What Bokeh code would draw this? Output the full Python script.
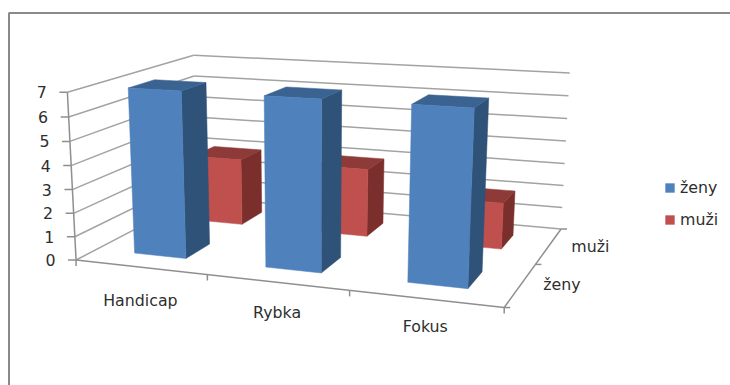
import numpy as np
from bokeh.embed import file_html
from bokeh.models import ColumnDataSource, Legend, LegendItem
from bokeh.plotting import figure
from bokeh.resources import INLINE
from bokeh.core.properties import value

# Chart data
categories = ["Handicap", "Rybka", "Fokus"]
series_names = ["ženy", "muži"]
zeny = [7, 7, 7]
muzi = [3, 3, 2]
value_ticks = [0, 1, 2, 3, 4, 5, 6, 7]

FONT = "DejaVu Sans"
FONT_SIZE = "15.8px"
TEXT = "#2e2e2e"
GRID = "#a3a3a3"
AXIS = "#8f8f8f"
FACE = {"ženy": ("#4f81bd", "#3a6391", "#2f5279"),
        "muži": ("#c0504d", "#8e3a38", "#7b2f2d")}

# Camera calibration: (category position, depth position, value) -> screen position.
# A perspective matrix is solved from these axis corners and ticks.
CAL = [
    ((0, 0, 0), (76, 260)), ((0, 0, 7), (67, 91)),
    ((0, 2, 7), (193, 55)), ((0, 2, 0), (196.6, 196)),
    ((3, 2, 7), (569.3, 72.7)), ((3, 2, 0), (560.5, 228.3)),
    ((3, 0, 0), (503.3, 306.7)), ((1, 0, 0), (206.5, 274.5)),
    ((2, 0, 0), (349, 290)), ((3, 1, 0), (535.5, 264)),
]


def solve_camera(pairs):
    rows, rhs = [], []
    for (x, y, z), (u, v) in pairs:
        rows.append([x, y, z, 1, 0, 0, 0, 0, -u * x, -u * y, -u * z])
        rows.append([0, 0, 0, 0, x, y, z, 1, -v * x, -v * y, -v * z])
        rhs += [u, v]
    m, *_ = np.linalg.lstsq(np.array(rows, float), np.array(rhs, float), rcond=None)
    return np.append(m, 1).reshape(3, 4)


CAM = solve_camera(CAL)


def project(x, y, z):
    h = CAM @ np.array([x, y, z, 1.0])
    return h[0] / h[2], h[1] / h[2]


def seg(a, b, off=(0, 0)):
    pa, pb = project(*a), project(*b)
    return [pa[0], pb[0] + off[0]], [pa[1], pb[1] + off[1]]


p = figure(width=730, height=385, x_range=(0, 730), y_range=(385, 0),
           output_backend="svg", toolbar_location=None, min_border=0)
p.axis.visible = False
p.grid.visible = False
p.outline_line_color = None
p.background_fill_color = "#ffffff"
p.border_fill_color = "#ffffff"

# Chart-area frame, open towards the lower and right edges
p.line([8.5, 8.5, 730], [385, 12.5, 12.5], line_color="#8a8a8a", line_width=2)

# Wall gridlines: left wall, then back wall
xs, ys = [], []
for v in value_ticks:
    for a, b in (((0, 0, v), (0, 2, v)), ((0, 2, v), (3, 2, v))):
        sx, sy = seg(a, b)
        xs.append(sx)
        ys.append(sy)
p.multi_line(xs, ys, line_color=GRID, line_width=1.5)

# Axis lines and tick marks
xs, ys = [], []
for a, b in (((0, 0, 0), (0, 0, 7)), ((0, 0, 0), (3, 0, 0)), ((3, 0, 0), (3, 2, 0))):
    sx, sy = seg(a, b)
    xs.append(sx)
    ys.append(sy)
for v in value_ticks:
    sx, sy = seg((0, 0, v), (0, 0, v), (-8, 0))
    xs.append(sx)
    ys.append(sy)
for c in range(len(categories) + 1):
    sx, sy = seg((c, 0, 0), (c, 0, 0), (0, 6))
    xs.append(sx)
    ys.append(sy)
for d in range(len(series_names) + 1):
    sx, sy = seg((3, d, 0), (3, d, 0), (6, 0))
    xs.append(sx)
    ys.append(sy)
p.multi_line(xs, ys, line_color=AXIS, line_width=1.5)


def bar_faces(cat, depth, val):
    """Screen polygons of one bar's front, top and right faces."""
    x0, x1 = cat + 0.3, cat + 0.7
    y0, y1 = depth + 0.3, depth + 0.7
    quads = (
        [(x0, y0, 0), (x1, y0, 0), (x1, y0, val), (x0, y0, val)],
        [(x0, y0, val), (x1, y0, val), (x1, y1, val), (x0, y1, val)],
        [(x1, y0, 0), (x1, y1, 0), (x1, y1, val), (x1, y0, val)],
    )
    return [tuple(map(list, zip(*[project(*q) for q in quad]))) for quad in quads]


# Bars, rear row first so the front row covers it
legend_items = {}
for depth, name, vals in ((1, "muži", muzi), (0, "ženy", zeny)):
    front, top, side = FACE[name]
    fx, fy, tx, ty, sx, sy = [], [], [], [], [], []
    for cat, val in enumerate(vals):
        f, t, s = bar_faces(cat, depth, val)
        fx.append(f[0]); fy.append(f[1])
        tx.append(t[0]); ty.append(t[1])
        sx.append(s[0]); sy.append(s[1])
    p.patches(sx, sy, fill_color=side, line_color=side, line_width=0.5)
    p.patches(tx, ty, fill_color=top, line_color=top, line_width=0.5)
    legend_items[name] = p.patches(fx, fy, fill_color=front, line_color=front, line_width=0.5)

# Axis labels
label_x, label_y, label_text, label_align = [], [], [], []
for v in value_ticks:
    px, py = project(0, 0, v)
    label_x.append(px - 20.5); label_y.append(py); label_text.append(str(v)); label_align.append("right")
for c, name in enumerate(categories):
    px, py = project(c + 0.5, 0, 0)
    label_x.append(px); label_y.append(py + 33 - 2.5 * c); label_text.append(name); label_align.append("center")
for d, name in enumerate(series_names):
    px, py = project(3, d + 0.5, 0)
    label_x.append(px + 22.5); label_y.append(py + d); label_text.append(name); label_align.append("left")
p.text(x="x", y="y", text="t", text_align="a", text_baseline="middle",
       text_font=value(FONT), text_font_size=FONT_SIZE, text_color=TEXT,
       source=ColumnDataSource(dict(x=label_x, y=label_y, t=label_text, a=label_align)))

legend = Legend(items=[LegendItem(label=value(n), renderers=[legend_items[n]]) for n in series_names],
                location=(664, 385 - 229), orientation="vertical",
                glyph_width=11, glyph_height=11, label_standoff=5, spacing=12,
                padding=0, margin=0, border_line_color=None, background_fill_alpha=0,
                label_text_font=FONT, label_text_font_size=FONT_SIZE, label_text_color=TEXT,
                label_height=20, label_text_baseline="middle")
p.add_layout(legend, "center")

open("out.html", "w").write(file_html(p, INLINE))
